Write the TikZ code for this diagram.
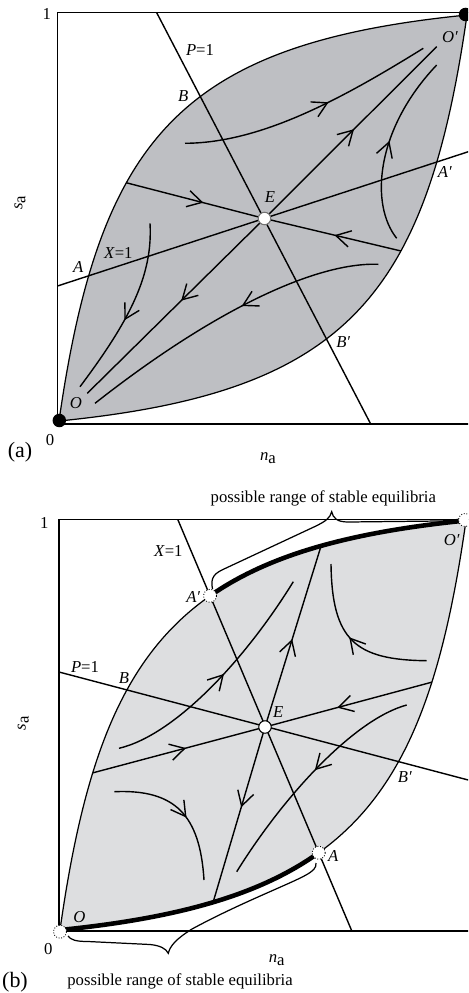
\documentclass[tikz,border=0pt]{standalone}
\usepackage{fontspec}
\setmainfont{Liberation Serif}
\usetikzlibrary{arrows.meta,decorations.markings,intersections}
\definecolor{lensA}{RGB}{190,191,195}
\definecolor{lensB}{RGB}{221,222,224}
\tikzset{
  boxline/.style={line width=0.9pt},
  lensline/.style={line width=0.7pt},
  flow/.style={line width=0.8pt},
  arrowat/.style={postaction={decorate,decoration={markings,
      mark=at position #1 with {\arrow[line width=0.8pt]{Straight Barb[length=2.9mm,width=3.3mm]}}}}},
  lbl/.style={inner sep=0pt,font=\fontsize{9.5}{11}\selectfont},
  biglbl/.style={inner sep=0pt,font=\fontsize{12.5}{14}\selectfont},
  thickseg/.style={line width=2.6pt},
  bracel/.style={line width=0.7pt},
  opendot/.style={circle,draw,densely dotted,fill=white,minimum size=0.26cm,inner sep=0pt,line width=0.5pt},
  soliddot/.style={circle,fill=black,minimum size=0.27cm,inner sep=0pt},
  eqdot/.style={circle,draw,fill=white,minimum size=0.25cm,inner sep=0pt,line width=0.6pt},
}
\begin{document}
\begin{tikzpicture}[x=0.02cm,y=-0.02cm]
\path[use as bounding box] (0,0) rectangle (468,993);
\clip (0,0) rectangle (468,993);

%================ Panel (a) ================
\coordinate (Ea) at (264.5,218.5);
\filldraw[fill=lensA,lensline] (59,421) .. controls (99.8,136.8) and (181.4,43.4) .. (467,15)
   .. controls (426.2,299.2) and (344.6,392.6) .. (59,421) -- cycle;
\draw[boxline] (57.5,12.7) rectangle (472,424);
% P=1 and X=1
\draw[flow] (156.7,12.7) -- (370.7,424);
\draw[flow] (57.5,286) -- (472,150.5);
% separatrices
\begin{scope}
\clip (59,421) .. controls (99.8,136.8) and (181.4,43.4) .. (467,15)
   .. controls (426.2,299.2) and (344.6,392.6) .. (59,421) -- cycle;
\draw[flow,arrowat=0.61] (107.9,178) -- (Ea);
\draw[flow,arrowat=0.54] (416.5,254.7) -- (Ea);
\end{scope}
\draw[flow,arrowat=0.52] (Ea) -- (436.7,46.7);
\draw[flow,arrowat=0.47] (Ea) -- (87.3,393.3);
% trajectories
\draw[flow,arrowat=0.58] (185,143.3) .. controls (260,143) and (340,100) .. (423.3,48.3);
\draw[flow,arrowat=0.45] (378.3,264.3) .. controls (320,262) and (220,305) .. (95,403.3);
\draw[flow,arrowat=0.53] (396.7,238.3) .. controls (370,205) and (375,130) .. (436.7,65);
\draw[flow,arrowat=0.56] (150,223.3) .. controls (153,275) and (130,320) .. (80,386.7);
% points
\node[soliddot] (Oa) at (59.3,420.5) {};
\node[soliddot] (Opa) at (465.5,14.5) {};
\node[eqdot,draw=black!55] (Edota) at (Ea) {};
% labels
\node[lbl] (la1) at (200,50) {\textit{P}=1};
\node[lbl] (la2) at (183.3,96) {\textit{B}};
\node[lbl] (la3) at (270,196.7) {\textit{E}};
\node[lbl] (la4) at (450,36.7) {\textit{O′}};
\node[lbl] (la5) at (445,171.7) {\textit{A′}};
\node[lbl] (la6) at (118.3,253.3) {\textit{X}=1};
\node[lbl] (la7) at (78.3,266.7) {\textit{A}};
\node[lbl] (la8) at (343.3,341.7) {\textit{B′}};
\node[lbl] (la9) at (76,403.3) {\textit{O}};
\node[lbl] (la10) at (50,440) {0};
\node[lbl] (la11) at (46.7,14) {1};
\node[biglbl] (la12) at (20,452) {(a)};
\node[lbl] (la13) at (268,458) {\textit{n}\raisebox{-0.4ex}{a}};
\node[lbl,rotate=90] (la14) at (20,203) {\textit{s}\raisebox{-0.4ex}{a}};

%================ Panel (b) ================
\coordinate (Eb) at (265,727);
\filldraw[fill=lensB,lensline] (60,930) .. controls (100.6,643.35) and (181.8,549.2) .. (466,520.5)
   .. controls (425.4,807.15) and (344.2,901.3) .. (60,930) -- cycle;
\draw[boxline] (59,519.3) rectangle (472,930.7);
% P=1 and X=1
\draw[flow] (59,672) -- (472,781);
\draw[flow] (177.7,519.3) -- (351.7,930.7);
% separatrices
\begin{scope}
\clip (60,930) .. controls (100.6,643.35) and (181.8,549.2) .. (466,520.5)
   .. controls (425.4,807.15) and (344.2,901.3) .. (60,930) -- cycle;
\draw[flow,arrowat=0.6] (67.5,779.6) -- (Eb);
\draw[flow,arrowat=0.62] (454.8,676) -- (Eb);
\draw[flow,arrowat=0.43] (Eb) -- (328.3,522.6);
\draw[flow,arrowat=0.40] (Eb) -- (205.5,927.9);
\end{scope}
% trajectories
\draw[flow,arrowat=0.53] (119,748.3) .. controls (175,735) and (245,660) .. (293.3,581.7);
\draw[flow,arrowat=0.47] (406.7,705) .. controls (355,719) and (285,794) .. (236.7,871.7);
\draw[flow,arrowat=0.52] (426.7,660.7) .. controls (355,660) and (332,640) .. (331,564);
\draw[flow,arrowat=0.55] (114.3,791.7) .. controls (175,789) and (200,815) .. (204,880);
% thick ranges
\begin{scope}
\clip (169,498.7) -- (480,498.7) -- (480,951.3) -- (360.4,951.3) -- cycle;
\draw[thickseg] (60,930) .. controls (100.6,643.35) and (181.8,549.2) .. (466,520.5);
\end{scope}
\begin{scope}
\clip (169,498.7) -- (360.4,951.3) -- (40,951.3) -- (40,498.7) -- cycle;
\draw[thickseg] (466,520.5) .. controls (425.4,807.15) and (344.2,901.3) .. (60,930);
\end{scope}
% braces
\draw[bracel] (212.5,589) .. controls (210,577) and (215,573.2) .. (224,569) -- (316,526)
   .. controls (326,521) and (330,518) .. (331.7,511.7)
   .. controls (333,518) and (337,522) .. (348,522) -- (440,521)
   .. controls (452,520.5) and (458,520) .. (462,518);
\draw[bracel] (68,936) .. controls (71,940) and (76,941.5) .. (88,941.5) -- (150,944.5)
   .. controls (160,945.5) and (166,948.5) .. (168.3,953.3)
   .. controls (170,946) and (176,939) .. (192,929)
   .. controls (240,903) and (290,884) .. (306,875)
   .. controls (313,871) and (316.5,868) .. (316,863);
% intersection points A', A
\path[name path=upB] (60,930) .. controls (100.6,643.35) and (181.8,549.2) .. (466,520.5);
\path[name path=loB] (466,520.5) .. controls (425.4,807.15) and (344.2,901.3) .. (60,930);
\path[name path=xB] (177.7,519.3) -- (351.7,930.7);
\path[name intersections={of=upB and xB,by={Apb}}];
\path[name intersections={of=loB and xB,by={Ab}}];
\node[opendot] (ApbDot) at (Apb) {};
\node[opendot] (AbDot) at (Ab) {};
\node[opendot] (Ob) at (60,931.7) {};
\node[opendot] (Opb) at (465,520) {};
\node[eqdot] (Edotb) at (Eb) {};
% labels
\node[lbl] (lb1) at (168.3,551) {\textit{X}=1};
\node[lbl] (lb2) at (193.3,596.7) {\textit{A′}};
\node[lbl] (lb3) at (85,666.7) {\textit{P}=1};
\node[lbl] (lb4) at (124,678.3) {\textit{B}};
\node[lbl] (lb5) at (278.3,711.7) {\textit{E}};
\node[lbl] (lb6) at (405,777.3) {\textit{B′}};
\node[lbl] (lb7) at (333.3,855.7) {\textit{A}};
\node[lbl] (lb8) at (79.3,916.7) {\textit{O}};
\node[lbl] (lb9) at (451.7,540) {\textit{O′}};
\node[lbl] (lb10) at (44.3,523.3) {1};
\node[lbl] (lb11) at (48.3,949) {0};
\node[biglbl] (lb12) at (15,982) {(b)};
\node[lbl] (lb13) at (276.7,960) {\textit{n}\raisebox{-0.4ex}{a}};
\node[lbl,rotate=90] (lb14) at (23.3,723.3) {\textit{s}\raisebox{-0.4ex}{a}};
\node[lbl] (lb15) at (323.3,498.3) {possible range of stable equilibria};
\node[lbl] (lb16) at (180,981.5) {possible range of stable equilibria};
\end{tikzpicture}
\end{document}
